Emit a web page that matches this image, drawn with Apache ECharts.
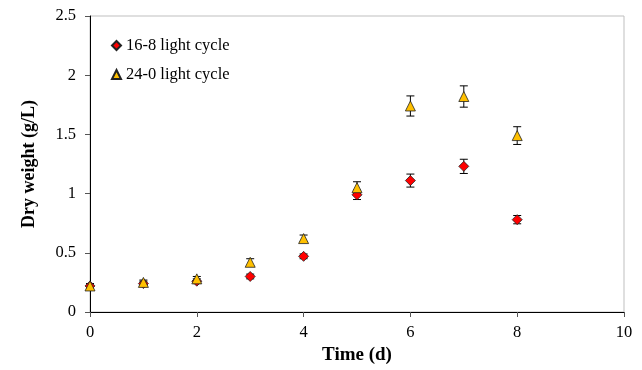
<!DOCTYPE html>
<html>
<head>
<meta charset="utf-8">
<script src="https://cdn.jsdelivr.net/npm/echarts@6/dist/echarts.min.js"></script>
<style>
html,body{margin:0;padding:0;background:#fff;}
#chart{width:642px;height:370px;}
</style>
</head>
<body>
<div id="chart"></div>
<script>
var days = [0, 1, 2, 3, 4, 5, 6, 7, 8];
var cycle168 = [0.22, 0.24, 0.26, 0.30, 0.47, 0.99, 1.11, 1.23, 0.78];
var cycle168Err = [0.02, 0.02, 0.02, 0.02, 0.02, 0.04, 0.055, 0.06, 0.035];
var cycle240 = [0.22, 0.25, 0.28, 0.42, 0.62, 1.05, 1.74, 1.82, 1.49];
var cycle240Err = [0.02, 0.02, 0.02, 0.03, 0.03, 0.05, 0.085, 0.09, 0.075];
var seriesNames = ['16-8 light cycle', '24-0 light cycle'];
var xTicks = [0, 2, 4, 6, 8, 10];
var yTicks = [0, 0.5, 1, 1.5, 2, 2.5];

var FONT = '"Liberation Serif", "Times New Roman", serif';

function pts(vals) { return days.map(function (d, i) { return [d, vals[i]]; }); }
function errs(vals, e) { return days.map(function (d, i) { return [d, vals[i] - e[i], vals[i] + e[i]]; }); }

function errRender(params, api) {
  var x = api.value(0);
  var lo = api.coord([x, api.value(1)]);
  var hi = api.coord([x, api.value(2)]);
  var hw = 4;
  var st = { stroke: '#000', lineWidth: 1 };
  return {
    type: 'group',
    children: [
      { type: 'line', shape: { x1: lo[0], y1: lo[1], x2: hi[0], y2: hi[1] }, style: st },
      { type: 'line', shape: { x1: lo[0] - hw, y1: lo[1], x2: lo[0] + hw, y2: lo[1] }, style: st },
      { type: 'line', shape: { x1: hi[0] - hw, y1: hi[1], x2: hi[0] + hw, y2: hi[1] }, style: st }
    ]
  };
}

var chart = echarts.init(document.getElementById('chart'), null, { renderer: 'canvas' });
chart.setOption({
  animation: false,
  backgroundColor: '#fff',
  textStyle: { fontFamily: FONT },
  grid: { left: 90, right: 18, top: 16, bottom: 54, show: true, borderColor: '#bfbfbf', borderWidth: 1 },
  legend: {
    data: seriesNames,
    orient: 'vertical',
    left: 106,
    top: 31,
    itemWidth: 9,
    itemHeight: 9,
    itemGap: 10,
    textStyle: { fontFamily: FONT, fontSize: 16.5, color: '#000', lineHeight: 19 }
  },
  xAxis: {
    type: 'value',
    min: xTicks[0],
    max: xTicks[xTicks.length - 1],
    interval: 2,
    name: 'Time (d)',
    nameLocation: 'middle',
    nameGap: 34,
    nameTextStyle: { fontFamily: FONT, fontSize: 19, fontWeight: 'bold', color: '#000' },
    axisLine: { lineStyle: { color: '#000', width: 1 } },
    axisTick: { show: true, length: 5, lineStyle: { color: '#555' } },
    axisLabel: { margin: 12, fontFamily: FONT, fontSize: 16.5, color: '#000' },
    splitLine: { show: false }
  },
  yAxis: {
    type: 'value',
    min: yTicks[0],
    max: yTicks[yTicks.length - 1],
    interval: 0.5,
    name: 'Dry weight (g/L)',
    nameLocation: 'middle',
    nameGap: 52,
    nameTextStyle: { fontFamily: FONT, fontSize: 18, fontWeight: 'bold', color: '#000' },
    axisLine: { show: true, lineStyle: { color: '#000', width: 1 } },
    axisTick: { show: true, length: 5, lineStyle: { color: '#555' } },
    axisLabel: { margin: 14, fontFamily: FONT, fontSize: 16.5, color: '#000' },
    splitLine: { show: false }
  },
  series: [
    { type: 'custom', name: 'err168', renderItem: errRender, data: errs(cycle168, cycle168Err), z: 1, silent: true },
    { type: 'custom', name: 'err240', renderItem: errRender, data: errs(cycle240, cycle240Err), z: 1, silent: true },
    {
      type: 'scatter', name: seriesNames[0], data: pts(cycle168), symbol: 'diamond', symbolSize: 10, z: 3,
      itemStyle: { color: '#ff0000', borderColor: '#222', borderWidth: 0.8, opacity: 1 }
    },
    {
      type: 'scatter', name: seriesNames[1], data: pts(cycle240), symbol: 'triangle', symbolSize: 10, z: 4,
      itemStyle: { color: '#ffc000', borderColor: '#222', borderWidth: 0.8, opacity: 1 }
    }
  ]
});
</script>
</body>
</html>
